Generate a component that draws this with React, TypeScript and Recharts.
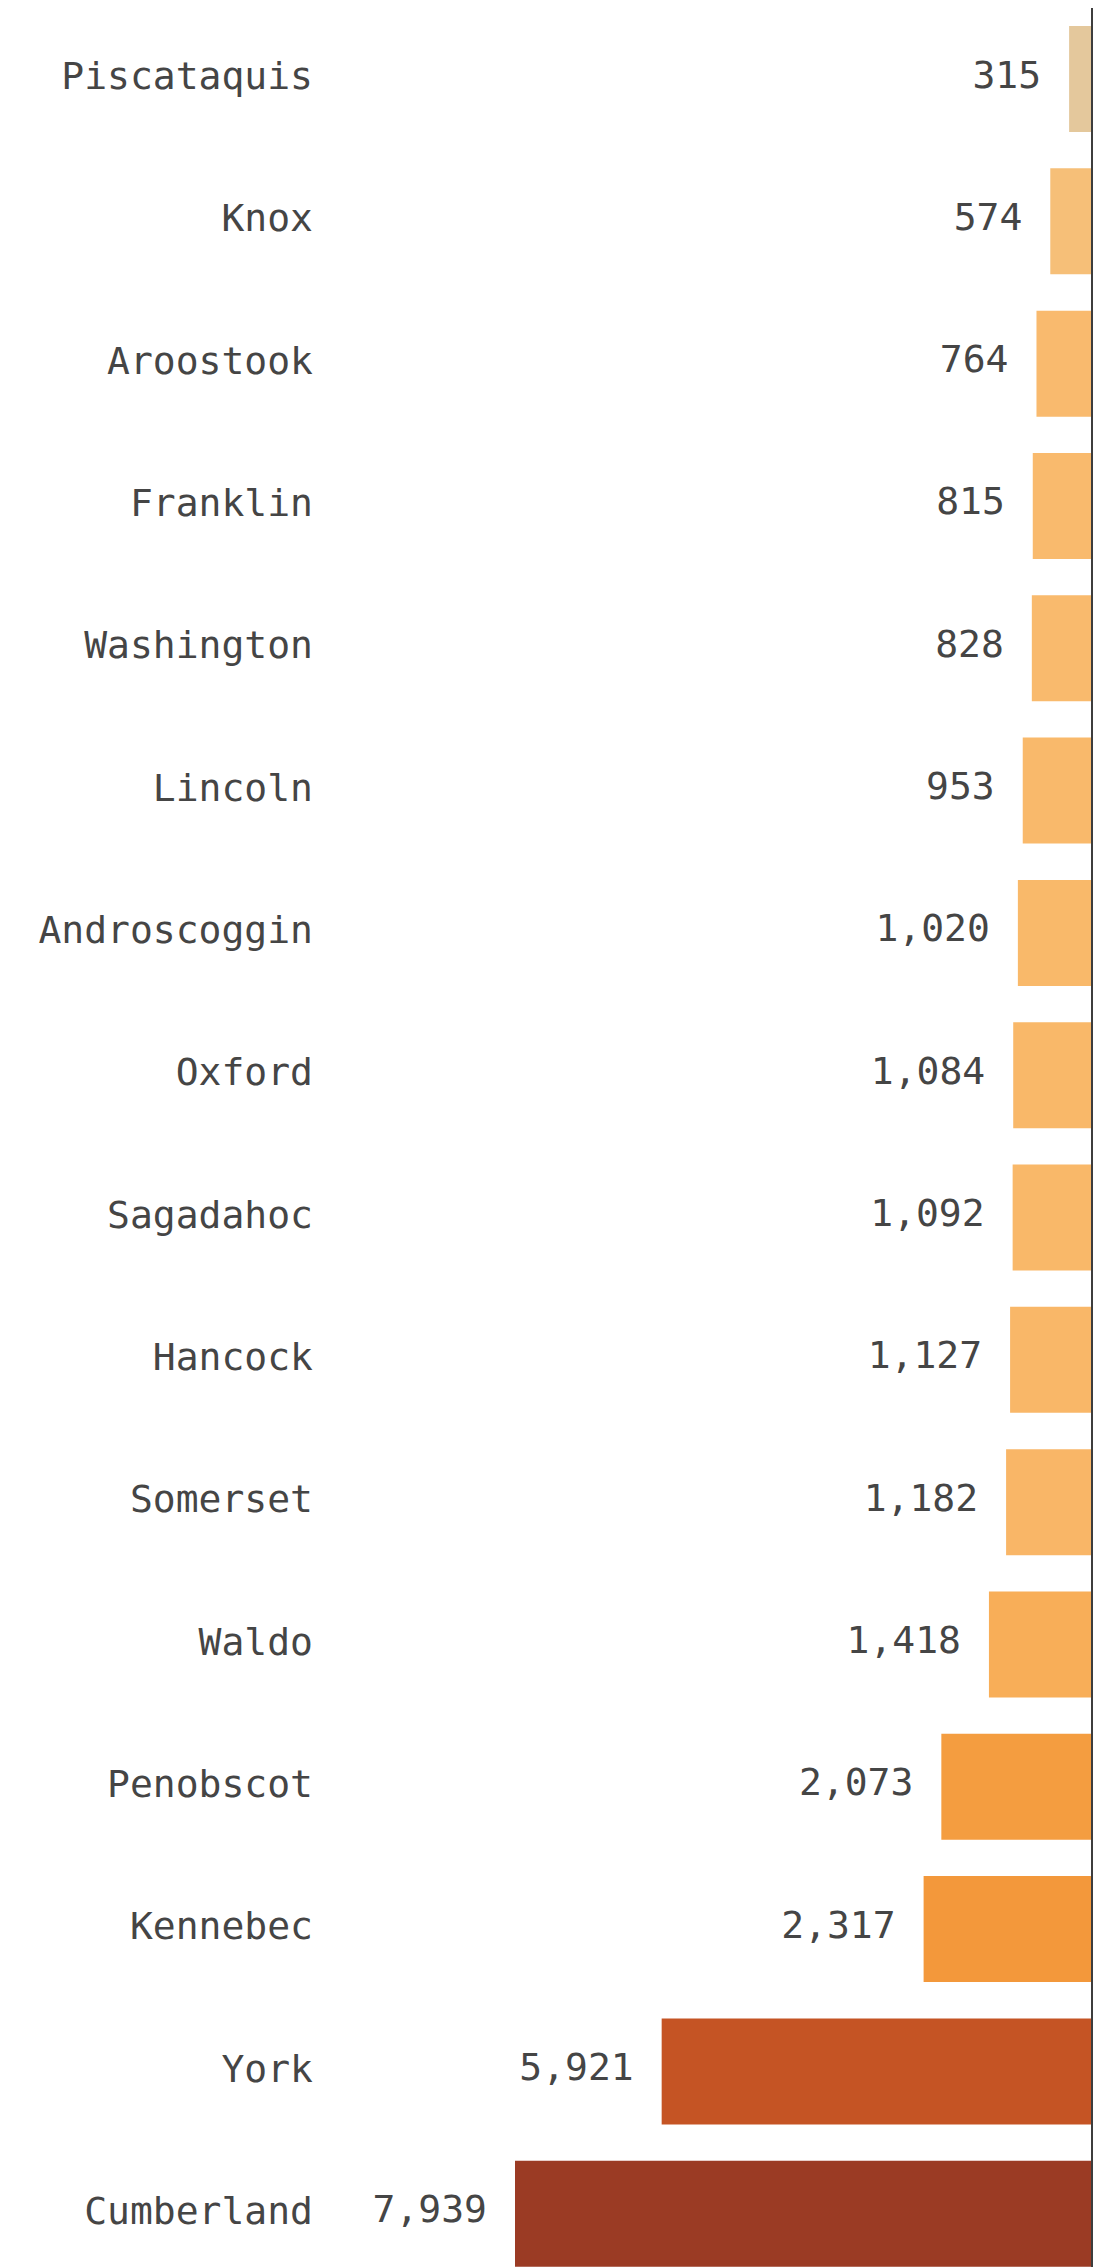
import React from 'react';
import { BarChart, Bar, XAxis, YAxis, Cell, ReferenceLine } from 'recharts';

const counties = [
  'Piscataquis', 'Knox', 'Aroostook', 'Franklin', 'Washington', 'Lincoln', 'Androscoggin', 'Oxford',
  'Sagadahoc', 'Hancock', 'Somerset', 'Waldo', 'Penobscot', 'Kennebec', 'York', 'Cumberland',
];
const counts = [315, 574, 764, 815, 828, 953, 1020, 1084, 1092, 1127, 1182, 1418, 2073, 2317, 5921, 7939];
const barColors = [
  '#E4C89C', '#F6BF78', '#F9BA6E', '#F9BA6D', '#F9BA6D', '#F9B96B', '#F9B96A', '#F9B869',
  '#F9B869', '#F9B768', '#F9B667', '#F8AE58', '#F49D40', '#F3983B', '#C55424', '#9B3B24',
];

const data = counties.map((county, i) => ({ county, count: counts[i] }));

const FONT = "'DejaVu Sans Mono', monospace";
const TEXT_COLOR = '#454545';

const CountyTick = (props: any) => {
  const { x, y, payload } = props;
  return (
    <text x={x} y={y} dy={10} textAnchor="end" fontFamily={FONT} fontSize={38} fill={TEXT_COLOR}>
      {payload.value}
    </text>
  );
};

const ValueLabel = (props: any) => {
  const { x, y, width, height, value } = props;
  const left = Math.min(x, x + width);
  return (
    <text x={left - 28} y={y + height / 2} dy={8.5} textAnchor="end" fontFamily={FONT} fontSize={38} fill={TEXT_COLOR}>
      {Number(value).toLocaleString('en-US')}
    </text>
  );
};

export default function App() {
  return (
    <div style={{ position: 'absolute', top: 0, left: 0, width: 1118, height: 2267, overflow: 'hidden', background: '#fff' }}>
      <div style={{ position: 'absolute', top: 8, left: 0 }}>
        <BarChart
          width={1118}
          height={2277}
          data={data}
          layout="vertical"
          margin={{ top: 0, right: 26, bottom: 0, left: 0 }}
          barSize={106}
        >
          <XAxis type="number" domain={[0, 'dataMax']} reversed hide />
          <YAxis
            type="category"
            dataKey="county"
            width={515}
            axisLine={false}
            tickLine={false}
            tickSize={0}
            tickMargin={202}
            tick={<CountyTick />}
            interval={0}
          />
          <Bar dataKey="count" isAnimationActive={false} label={<ValueLabel />}>
            {data.map((d, i) => (
              <Cell key={d.county} fill={barColors[i]} />
            ))}
          </Bar>
          <ReferenceLine x={0} stroke="#3d3d3d" strokeWidth={2} />
        </BarChart>
      </div>
    </div>
  );
}
